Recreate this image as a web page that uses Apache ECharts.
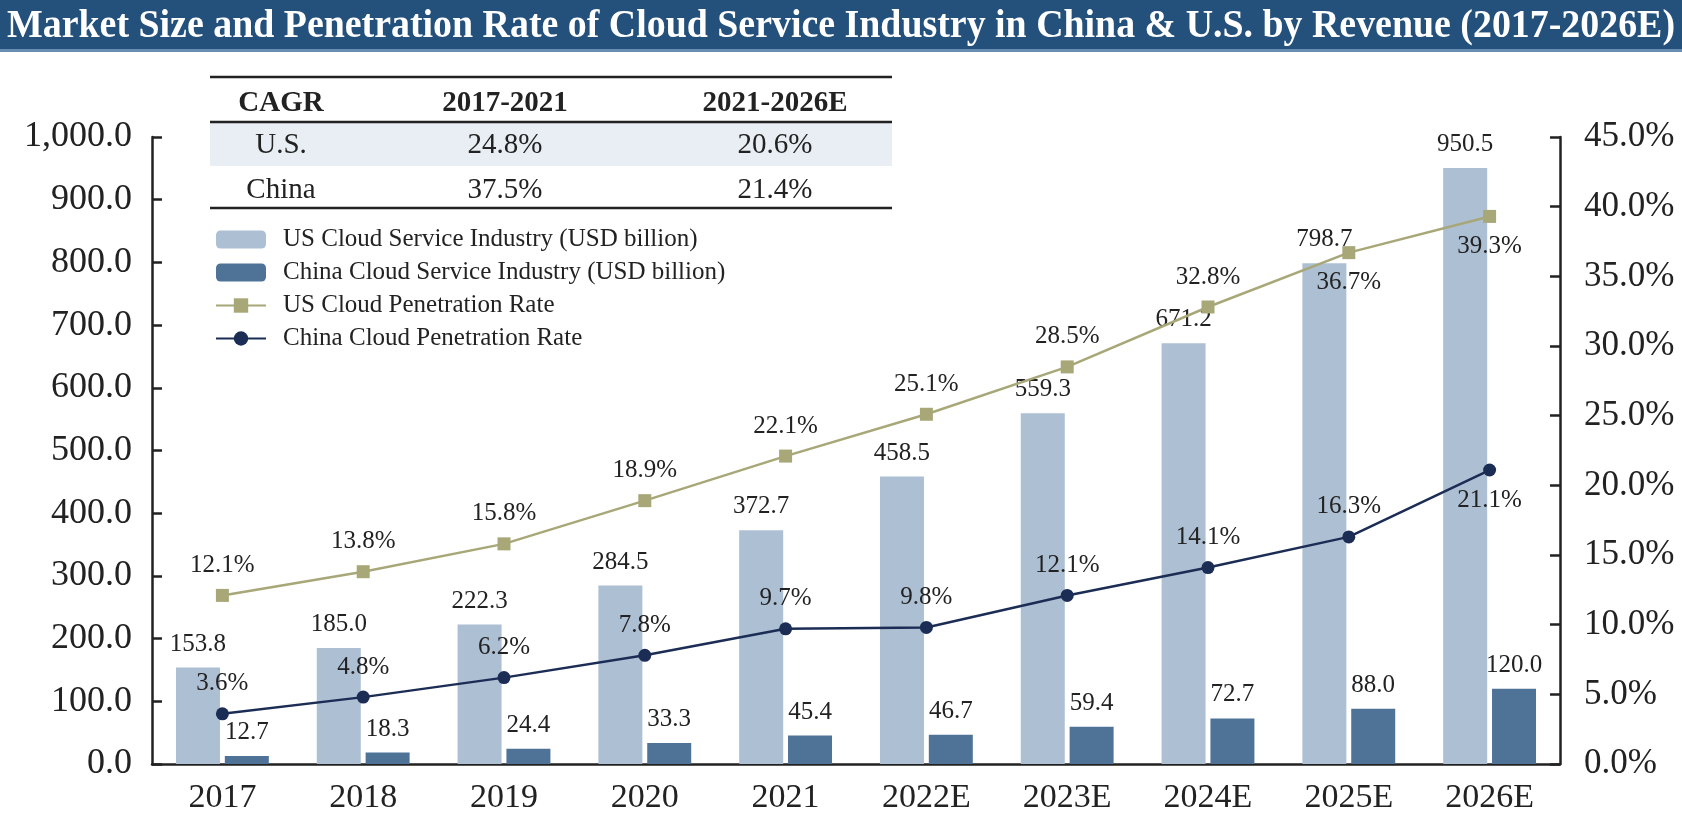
<!DOCTYPE html>
<html><head><meta charset="utf-8">
<script src="https://cdn.jsdelivr.net/npm/echarts@6/dist/echarts.min.js"></script>
<style>html,body{margin:0;padding:0;background:#fff}#c{width:1682px;height:820px}</style>
</head><body><div id="c"></div>
<script>
const years = ['2017','2018','2019','2020','2021','2022E','2023E','2024E','2025E','2026E'];
const usMarket = [153.8,185.0,222.3,284.5,372.7,458.5,559.3,671.2,798.7,950.5];
const chinaMarket = [12.7,18.3,24.4,33.3,45.4,46.7,59.4,72.7,88.0,120.0];
const usRate = [12.1,13.8,15.8,18.9,22.1,25.1,28.5,32.8,36.7,39.3];
const chinaRate = [3.6,4.8,6.2,7.8,9.7,9.8,12.1,14.1,16.3,21.1];
const cagrHeader = ['CAGR','2017-2021','2021-2026E'];
const cagrUS = ['U.S.','24.8%','20.6%'];
const cagrChina = ['China','37.5%','21.4%'];
const seriesNames = ['US Cloud Service Industry (USD billion)','China Cloud Service Industry (USD billion)','US Cloud Penetration Rate','China Cloud Penetration Rate'];
const titleText = 'Market Size and Penetration Rate of Cloud Service Industry in China & U.S. by Revenue (2017-2026E)';

const SERIF = '"Liberation Serif", "Times New Roman", serif';
const TXT = '#222222';

// title horizontal compression to fit the banner
const cv = document.createElement('canvas').getContext('2d');
const titleFont = 'bold 41px "Liberation Serif"';
cv.font = titleFont;
const titleW = cv.measureText(titleText).width;
const titleScale = Math.min(1, 1668 / titleW);

const colX = [281, 505, 775];
function rowTexts(arr, y, bold) {
  return arr.map((t, i) => ({
    type: 'text', x: colX[i], y: y,
    style: { text: t, fill: TXT, font: (bold ? 'bold ' : '') + '29px ' + SERIF,
      textAlign: 'center', textVerticalAlign: 'middle', align: 'center', verticalAlign: 'middle' }
  }));
}
function rule(y) {
  return { type: 'line', shape: { x1: 210, y1: y, x2: 892, y2: y }, style: { stroke: TXT, lineWidth: 2.5 } };
}

const chart = echarts.init(document.getElementById('c'));
chart.setOption({
  animation: false,
  backgroundColor: '#ffffff',
  textStyle: { fontFamily: SERIF, color: TXT },
  graphic: [
    { type: 'rect', shape: { x: 0, y: 0, width: 1682, height: 49 }, style: { fill: '#24507c' } },
    { type: 'rect', shape: { x: 0, y: 49, width: 1682, height: 3 }, style: { fill: '#6a8db3' } },
    { type: 'text', x: 841, y: 26, scaleX: titleScale, scaleY: 1,
      style: { text: titleText, fill: '#ffffff', font: titleFont, textAlign: 'center', textVerticalAlign: 'middle', align: 'center', verticalAlign: 'middle' } },
    { type: 'rect', shape: { x: 210, y: 123, width: 682, height: 43 }, style: { fill: '#e9eef4' } },
    rule(77), rule(122), rule(208),
    ...rowTexts(cagrHeader, 104, true),
    ...rowTexts(cagrUS, 145, false),
    ...rowTexts(cagrChina, 190, false)
  ],
  legend: {
    orient: 'vertical', left: 210, top: 222,
    itemWidth: 50, itemHeight: 18, itemGap: 8,
    textStyle: { fontFamily: SERIF, fontSize: 25, color: TXT, padding: [0, 0, 0, 12] },
    data: seriesNames
  },
  grid: { left: 152, right: 122, top: 137, bottom: 56, containLabel: false },
  xAxis: {
    type: 'category', data: years,
    axisLine: { lineStyle: { color: TXT, width: 2.5 } },
    axisTick: { show: false },
    axisLabel: { fontFamily: SERIF, fontSize: 34, color: TXT, margin: 17 }
  },
  yAxis: [
    { type: 'value', min: 0, max: 1000, interval: 100, position: 'left',
      axisLine: { show: true, lineStyle: { color: TXT, width: 2.5 } },
      axisTick: { show: true, inside: true, length: 10, lineStyle: { color: TXT, width: 2.5 } },
      splitLine: { show: false },
      axisLabel: { fontFamily: SERIF, fontSize: 36, color: TXT, margin: 20,
        formatter: v => v.toLocaleString('en-US', { minimumFractionDigits: 1, maximumFractionDigits: 1 }) } },
    { type: 'value', min: 0, max: 45, interval: 5, position: 'right',
      axisLine: { show: true, lineStyle: { color: TXT, width: 2.5 } },
      axisTick: { show: true, inside: true, length: 10, lineStyle: { color: TXT, width: 2.5 } },
      splitLine: { show: false },
      axisLabel: { fontFamily: SERIF, fontSize: 35, color: TXT, margin: 24,
        formatter: v => v.toFixed(1) + '%' } }
  ],
  series: [
    { name: seriesNames[0], type: 'bar', yAxisIndex: 0, data: usMarket, barWidth: 44, barGap: '11%',
      itemStyle: { color: '#adbfd3' },
      label: { show: true, position: 'top', distance: 11, fontFamily: SERIF, fontSize: 25, color: TXT, formatter: p => p.value.toFixed(1) } },
    { name: seriesNames[1], type: 'bar', yAxisIndex: 0, data: chinaMarket, barWidth: 44, barGap: '11%',
      itemStyle: { color: '#4f7297' },
      label: { show: true, position: 'top', distance: 11, fontFamily: SERIF, fontSize: 25, color: TXT, formatter: p => p.value.toFixed(1) } },
    { name: seriesNames[2], type: 'line', yAxisIndex: 1, symbol: 'rect', symbolSize: 13,
      data: usRate.map((v, i) => ({ value: v, label: { position: i >= 8 ? 'bottom' : 'top' } })),
      lineStyle: { color: '#a8a778', width: 2.5 }, itemStyle: { color: '#a8a778' },
      label: { show: true, distance: 11, fontFamily: SERIF, fontSize: 25, color: TXT, formatter: p => p.value.toFixed(1) + '%' } },
    { name: seriesNames[3], type: 'line', yAxisIndex: 1, symbol: 'circle', symbolSize: 13,
      data: chinaRate.map((v, i) => ({ value: v, label: { position: i === 9 ? 'bottom' : 'top' } })),
      lineStyle: { color: '#1c2d55', width: 2.5 }, itemStyle: { color: '#1c2d55' },
      label: { show: true, distance: 11, fontFamily: SERIF, fontSize: 25, color: TXT, formatter: p => p.value.toFixed(1) + '%' } }
  ]
});
</script></body></html>
